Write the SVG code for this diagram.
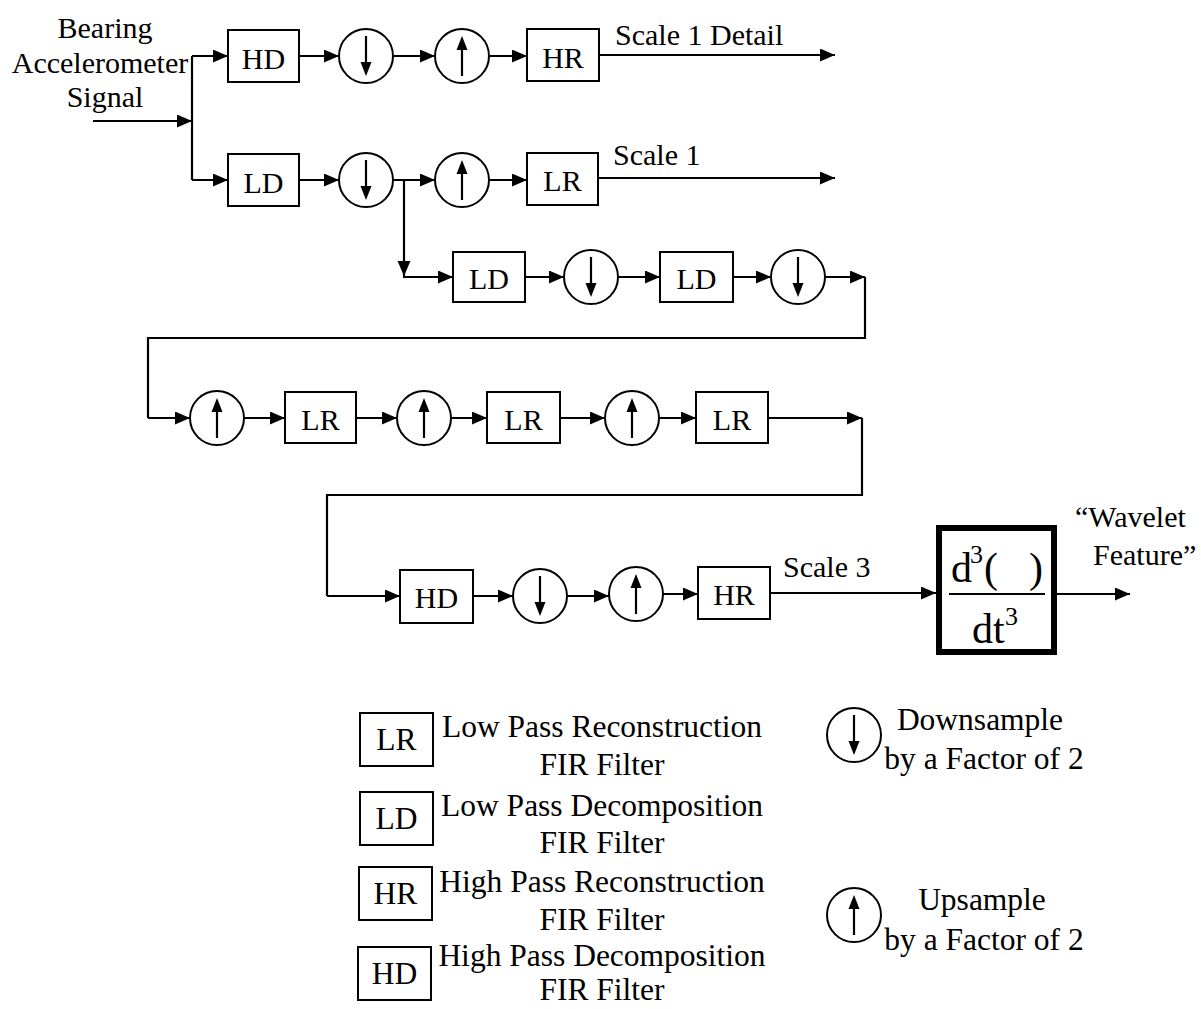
<svg xmlns="http://www.w3.org/2000/svg" width="1201" height="1009" viewBox="0 0 1201 1009">
<style>
text{font-family:"Liberation Serif","Times New Roman",serif;font-size:30px;fill:#000}
#legend text{font-size:31.5px}
.box{fill:#fff;stroke:#000;stroke-width:2}
.circ{fill:#fff;stroke:#000;stroke-width:2}
.ln{fill:none;stroke:#000;stroke-width:2.2}
.c{text-anchor:middle}
</style>
<defs>
<marker id="ah" markerUnits="userSpaceOnUse" markerWidth="16" markerHeight="14" refX="15" refY="6.5" orient="auto">
<path d="M0,0 L15,6.5 L0,13 z" fill="#000"/>
</marker>
<g id="down">
<circle class="circ" r="27" cx="0" cy="0"/>
<line x1="0" y1="-20" x2="0" y2="8" stroke="#000" stroke-width="2.2"/>
<path d="M-5.5,6 L5.5,6 L0,20 z" fill="#000"/>
</g>
<g id="up">
<circle class="circ" r="27" cx="0" cy="0"/>
<line x1="0" y1="20" x2="0" y2="-8" stroke="#000" stroke-width="2.2"/>
<path d="M-5.5,-6 L5.5,-6 L0,-20 z" fill="#000"/>
</g>
</defs>
<rect width="1201" height="1009" fill="#fff"/>

<g id="connectors">
<line class="ln" x1="93" y1="121" x2="192" y2="121" marker-end="url(#ah)"/>
<polyline class="ln" points="192,56 192,180"/>
<line class="ln" x1="192" y1="56" x2="228" y2="56" marker-end="url(#ah)"/>
<line class="ln" x1="192" y1="180" x2="228" y2="180" marker-end="url(#ah)"/>
<line class="ln" x1="299" y1="56" x2="339" y2="56" marker-end="url(#ah)"/>
<line class="ln" x1="393" y1="56" x2="435" y2="56" marker-end="url(#ah)"/>
<line class="ln" x1="489" y1="56" x2="527" y2="56" marker-end="url(#ah)"/>
<line class="ln" x1="599" y1="55" x2="835" y2="55" marker-end="url(#ah)"/>
<line class="ln" x1="299" y1="180" x2="339" y2="180" marker-end="url(#ah)"/>
<line class="ln" x1="393" y1="180" x2="435" y2="180" marker-end="url(#ah)"/>
<line class="ln" x1="489" y1="180" x2="527" y2="180" marker-end="url(#ah)"/>
<line class="ln" x1="598" y1="178" x2="835" y2="178" marker-end="url(#ah)"/>
<line class="ln" x1="404" y1="180" x2="404" y2="276" marker-end="url(#ah)"/>
<line class="ln" x1="403" y1="277" x2="453" y2="277" marker-end="url(#ah)"/>
<line class="ln" x1="525" y1="277" x2="564" y2="277" marker-end="url(#ah)"/>
<line class="ln" x1="618" y1="277" x2="660" y2="277" marker-end="url(#ah)"/>
<line class="ln" x1="733" y1="277" x2="771" y2="277" marker-end="url(#ah)"/>
<line class="ln" x1="825" y1="277" x2="865" y2="277" marker-end="url(#ah)"/>
<polyline class="ln" points="865,277 865,338 148,338 148,418"/>
<line class="ln" x1="148" y1="418" x2="190" y2="418" marker-end="url(#ah)"/>
<line class="ln" x1="244" y1="418" x2="285" y2="418" marker-end="url(#ah)"/>
<line class="ln" x1="356" y1="418" x2="397" y2="418" marker-end="url(#ah)"/>
<line class="ln" x1="451" y1="418" x2="487" y2="418" marker-end="url(#ah)"/>
<line class="ln" x1="560" y1="418" x2="605" y2="418" marker-end="url(#ah)"/>
<line class="ln" x1="659" y1="418" x2="696" y2="418" marker-end="url(#ah)"/>
<line class="ln" x1="768" y1="418" x2="862" y2="418" marker-end="url(#ah)"/>
<polyline class="ln" points="862,418 862,495 327,495 327,596"/>
<line class="ln" x1="327" y1="596" x2="400" y2="596" marker-end="url(#ah)"/>
<line class="ln" x1="473" y1="596" x2="513" y2="596" marker-end="url(#ah)"/>
<line class="ln" x1="567" y1="596" x2="609" y2="596" marker-end="url(#ah)"/>
<line class="ln" x1="663" y1="594" x2="698" y2="594" marker-end="url(#ah)"/>
<line class="ln" x1="770" y1="593" x2="936" y2="593" marker-end="url(#ah)"/>
<line class="ln" x1="1057" y1="594" x2="1130" y2="594" marker-end="url(#ah)"/>
</g>

<g id="input-label">
<text class="c" x="105" y="38">Bearing</text>
<text class="c" x="100" y="73">Accelerometer</text>
<text class="c" x="105" y="107">Signal</text>
</g>

<g id="hd1"><rect class="box" x="228" y="30" width="71" height="52"/><text class="c" x="263.5" y="69">HD</text></g>
<g id="down1"><use href="#down" x="366" y="56"/></g>
<g id="up1"><use href="#up" x="462" y="56"/></g>
<g id="hr1"><rect class="box" x="527" y="29" width="72" height="52"/><text class="c" x="563" y="68">HR</text></g>
<g id="lbl-scale1detail"><text x="615" y="45">Scale 1 Detail</text></g>

<g id="ld1"><rect class="box" x="228" y="154" width="71" height="52"/><text class="c" x="263.5" y="193">LD</text></g>
<g id="down2"><use href="#down" x="366" y="180"/></g>
<g id="up2"><use href="#up" x="462" y="180"/></g>
<g id="lr1"><rect class="box" x="527" y="153" width="71" height="52"/><text class="c" x="562.5" y="191">LR</text></g>
<g id="lbl-scale1"><text x="613" y="165">Scale 1</text></g>

<g id="ld2"><rect class="box" x="453" y="252" width="72" height="50"/><text class="c" x="489" y="289">LD</text></g>
<g id="down3"><use href="#down" x="591" y="277"/></g>
<g id="ld3"><rect class="box" x="660" y="252" width="73" height="50"/><text class="c" x="696.5" y="289">LD</text></g>
<g id="down4"><use href="#down" x="798" y="277"/></g>

<g id="up3"><use href="#up" x="217" y="418"/></g>
<g id="lr2"><rect class="box" x="285" y="392" width="71" height="51"/><text class="c" x="320.5" y="430">LR</text></g>
<g id="up4"><use href="#up" x="424" y="418"/></g>
<g id="lr3"><rect class="box" x="487" y="392" width="73" height="51"/><text class="c" x="523.5" y="430">LR</text></g>
<g id="up5"><use href="#up" x="632" y="418"/></g>
<g id="lr4"><rect class="box" x="696" y="392" width="72" height="51"/><text class="c" x="732" y="430">LR</text></g>

<g id="hd2"><rect class="box" x="400" y="570" width="73" height="53"/><text class="c" x="436.5" y="608">HD</text></g>
<g id="down5"><use href="#down" x="540" y="596"/></g>
<g id="up6"><use href="#up" x="636" y="594"/></g>
<g id="hr2"><rect class="box" x="698" y="567" width="72" height="52"/><text class="c" x="734" y="605">HR</text></g>
<g id="lbl-scale3"><text x="783" y="577">Scale 3</text></g>

<g id="deriv">
<rect x="939" y="528" width="115" height="124" fill="#fff" stroke="#000" stroke-width="6"/>
<text x="951" y="582" style="font-size:42px">d</text>
<text x="970" y="563" style="font-size:26px">3</text>
<text x="984" y="582" style="font-size:42px">(</text>
<text x="1029" y="582" style="font-size:42px">)</text>
<line x1="949" y1="594" x2="1045" y2="594" stroke="#000" stroke-width="2.2"/>
<text x="972" y="643" style="font-size:42px">dt</text>
<text x="1005" y="625" style="font-size:26px">3</text>
</g>
<g id="lbl-wavelet">
<text x="1075" y="527">“Wavelet</text>
<text x="1093" y="565">Feature”</text>
</g>

<g id="legend">
<g id="leg-lr"><rect class="box" x="360" y="713" width="73" height="53"/><text class="c" x="396.5" y="750">LR</text>
<text class="c" x="602" y="737">Low Pass Reconstruction</text><text class="c" x="602" y="775">FIR Filter</text></g>
<g id="leg-ld"><rect class="box" x="360" y="792" width="73" height="53"/><text class="c" x="396.5" y="829">LD</text>
<text class="c" x="602" y="816">Low Pass Decomposition</text><text class="c" x="602" y="853">FIR Filter</text></g>
<g id="leg-hr"><rect class="box" x="359" y="867" width="73" height="53"/><text class="c" x="395.5" y="904">HR</text>
<text class="c" x="602" y="892">High Pass Reconstruction</text><text class="c" x="602" y="930">FIR Filter</text></g>
<g id="leg-hd"><rect class="box" x="358" y="947" width="73" height="53"/><text class="c" x="394.5" y="984">HD</text>
<text class="c" x="602" y="966">High Pass Decomposition</text><text class="c" x="602" y="1000">FIR Filter</text></g>
<g id="leg-down"><use href="#down" x="854" y="735"/>
<text class="c" x="980" y="730">Downsample</text><text class="c" x="984" y="769">by a Factor of 2</text></g>
<g id="leg-up"><use href="#up" x="854" y="915"/>
<text class="c" x="982" y="910">Upsample</text><text class="c" x="984" y="950">by a Factor of 2</text></g>
</g>
</svg>
